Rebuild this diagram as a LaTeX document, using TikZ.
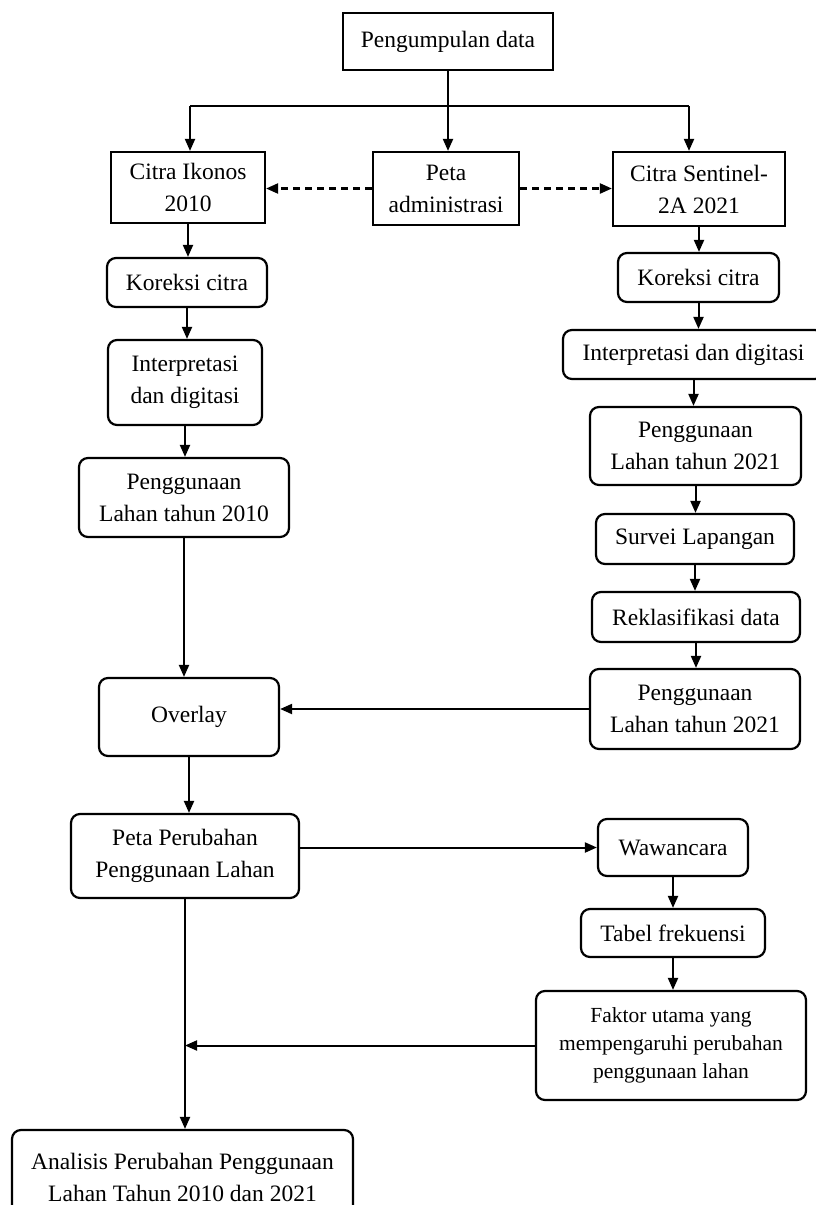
\documentclass[tikz,border=0pt]{standalone}
\usepackage{fontspec}
\setmainfont{Liberation Serif}
\usetikzlibrary{arrows.meta}
\tikzset{
  box/.style={draw, line width=2.2pt, align=center, inner sep=0pt, font=\fontsize{23.5}{32}\selectfont},
  rbox/.style={box, rounded corners=9pt},
  smallbox/.style={rbox, font=\fontsize{21.5}{28}\selectfont},
  arr/.style={-{Triangle[length=12pt,width=10pt]}, line width=2pt},
  thinline/.style={line width=1.2pt},
  dasharr/.style={arr, line width=2.2pt, dash pattern=on 7pt off 5pt},
}
\newcommand{\mybox}[7]{%
  \node[#1, minimum width={#4-#3}, minimum height={#6-#5}] (#2) at ({(#3+#4)/2},{(#5+#6)/2}) {#7};}
\begin{document}
\begin{tikzpicture}[x=1pt,y=-1pt]
\useasboundingbox (0,0) rectangle (816,1205);
\clip (0,0) rectangle (816,1205);
\fill[white] (0,0) rectangle (816,1205);
% top row
\mybox{box}{pd}{343}{553}{13}{70}{Pengumpulan data}
\mybox{box}{ik}{111}{265}{152}{223}{Citra Ikonos\\2010}
\mybox{box}{pa}{373}{519}{152}{225}{Peta\\administrasi}
\mybox{box}{cs}{613}{785}{152}{226}{Citra Sentinel-\\2A 2021}
% left column
\mybox{rbox}{kc1}{107}{267}{258}{307}{Koreksi citra}
\mybox{rbox}{id1}{108}{262}{340}{425}{Interpretasi\\dan digitasi}
\mybox{rbox}{pl10}{79}{289}{458}{537}{Penggunaan\\Lahan tahun 2010}
\mybox{rbox}{ov}{99}{279}{678}{756}{Overlay}
\mybox{rbox}{pp}{71}{299}{814}{898}{Peta Perubahan\\Penggunaan Lahan}
\mybox{rbox}{an}{12}{353}{1130}{1224}{Analisis Perubahan Penggunaan\\Lahan Tahun 2010 dan 2021}
% right column
\mybox{rbox}{kc2}{618}{779}{253}{302}{Koreksi citra}
\mybox{rbox}{id2}{563}{824}{330}{379}{Interpretasi dan digitasi}
\mybox{rbox}{pla}{590}{801}{407}{485}{Penggunaan\\Lahan tahun 2021}
\mybox{rbox}{sv}{596}{794}{514}{564}{Survei Lapangan}
\mybox{rbox}{rk}{592}{800}{592}{642}{Reklasifikasi data}
\mybox{rbox}{plb}{590}{800}{669}{749}{Penggunaan\\Lahan tahun 2021}
\mybox{rbox}{ww}{598}{748}{819}{876}{Wawancara}
\mybox{rbox}{tf}{581}{765}{909}{957}{Tabel frekuensi}
\mybox{smallbox}{fk}{536}{806}{991}{1100}{Faktor utama yang\\mempengaruhi perubahan\\penggunaan lahan}
% bus
\coordinate (busL) at (190,106);
\coordinate (busM) at (448,106);
\coordinate (busR) at (689,106);
\draw[thinline] (pd.south) -- (busM);
\draw[thinline] (busL) -- (busR);
\draw[arr] (busL) -- (busL |- ik.north);
\draw[arr] (busM) -- (busM |- pa.north);
\draw[arr] (busR) -- (busR |- cs.north);
% dashed
\draw[dasharr] (pa.west) -- (pa.west -| ik.east);
\draw[dasharr] (pa.east) -- (pa.east -| cs.west);
% left chain
\draw[arr] (ik.south) -- (ik.south |- kc1.north);
\draw[arr] (kc1.south) -- (kc1.south |- id1.north);
\draw[arr] (id1.south) -- (id1.south |- pl10.north);
\draw[arr] (pl10.south) -- (pl10.south |- ov.north);
\draw[arr] (ov.south) -- (ov.south |- pp.north);
\draw[arr] (pp.south) -- (pp.south |- an.north);
% right chain
\draw[arr] (cs.south) -- (cs.south |- kc2.north);
\draw[arr] (kc2.south) -- (kc2.south |- id2.north);
\draw[arr] (id2.south) -- (id2.south |- pla.north);
\draw[arr] (pla.south) -- (pla.south |- sv.north);
\draw[arr] (sv.south) -- (sv.south |- rk.north);
\draw[arr] (rk.south) -- (rk.south |- plb.north);
\draw[arr] (ww.south) -- (ww.south |- tf.north);
\draw[arr] (tf.south) -- (tf.south |- fk.north);
% horizontals
\draw[arr] (plb.west) -- (plb.west -| ov.east);
\draw[arr] (pp.east |- ww.west) -- (ww.west);
\draw[arr] (fk.west) -- (fk.west -| pp.south);
\end{tikzpicture}
\end{document}
